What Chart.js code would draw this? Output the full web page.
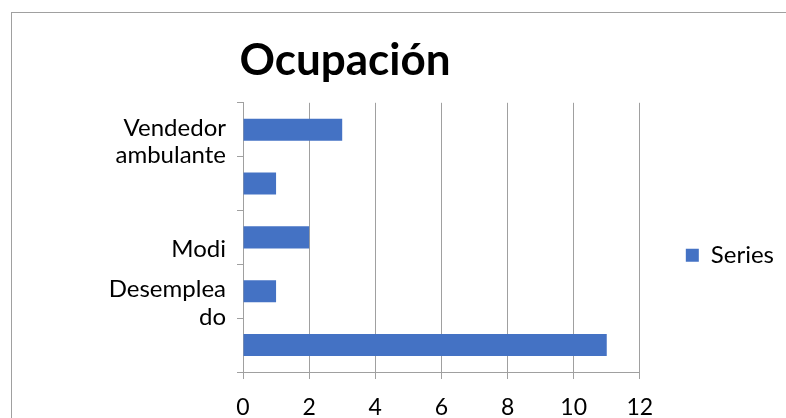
<!DOCTYPE html>
<html lang="es">
<head>
<meta charset="UTF-8">
<title>Ocupación</title>
<script src="https://cdn.jsdelivr.net/npm/chart.js"></script>
<style>
    body { margin: 0; background: #fff; overflow: hidden; }
    .marco {
        position: absolute; left: 11px; top: 12px;
        width: 800px; height: 420px;
        border-left: 1.5px solid #a0a0a0; border-top: 1.5px solid #a0a0a0;
    }
    .lienzo { position: absolute; left: -94px; top: 0; width: 878px; height: 418px; }
</style>
</head>
<body>
<div class="marco"></div>
<div class="lienzo"><canvas id="grafico" width="878" height="418"></canvas></div>

<script>
    // categorias de arriba hacia abajo (solo algunas etiquetas se ven)
    var categorias = [['Vendedor', 'ambulante'], '', 'Modi', ['Desemplea', 'do'], ''];
    var valores = [3, 1, 2, 1, 11];
    var nombreSerie = 'Series';
    var ejeMin = 0, ejeMax = 12, paso = 2;

    var gris = '#a0a0a0';
    var fuente = 'Lato, "Open Sans", sans-serif';

    new Chart(document.getElementById('grafico'), {
        type: 'bar',
        data: {
            labels: categorias,
            datasets: [{
                label: nombreSerie,
                data: valores,
                backgroundColor: '#4472C4',
                categoryPercentage: 1,
                barPercentage: 0.41
            }]
        },
        options: {
            indexAxis: 'y',
            responsive: false,
            animation: false,
            layout: { padding: 0 },
            plugins: {
                title: {
                    display: true,
                    text: 'Ocupación',
                    color: '#000',
                    font: { family: fuente, size: 44, weight: 'bold' },
                    padding: { top: 34, bottom: 16 }
                },
                legend: {
                    position: 'right',
                    // titulo vacio solo para bajar un poco la leyenda
                    title: { display: true, text: ' ', font: { size: 12 }, padding: { top: 78, bottom: 0 } },
                    labels: {
                        color: '#000',
                        font: { family: fuente, size: 24 },
                        boxWidth: 13, boxHeight: 13,
                        padding: 46
                    }
                },
                tooltip: { enabled: false }
            },
            scales: {
                x: {
                    min: ejeMin, max: ejeMax,
                    ticks: { stepSize: paso, color: '#000', font: { family: fuente, size: 23 }, padding: 15 },
                    grid: { color: gris, tickLength: 7, lineWidth: 1 },
                    border: { color: gris },
                    afterFit: function (eje) { eje.height = 46; }
                },
                y: {
                    ticks: {
                        autoSkip: false,
                        color: '#000',
                        font: { family: fuente, size: 24, lineHeight: 1.15 },
                        padding: 11, labelOffset: 12
                    },
                    grid: { color: gris, drawOnChartArea: false, tickLength: 6, offset: true },
                    border: { color: gris },
                    afterFit: function (eje) { eje.width = 337; }
                }
            }
        }
    });
</script>
</body>
</html>
